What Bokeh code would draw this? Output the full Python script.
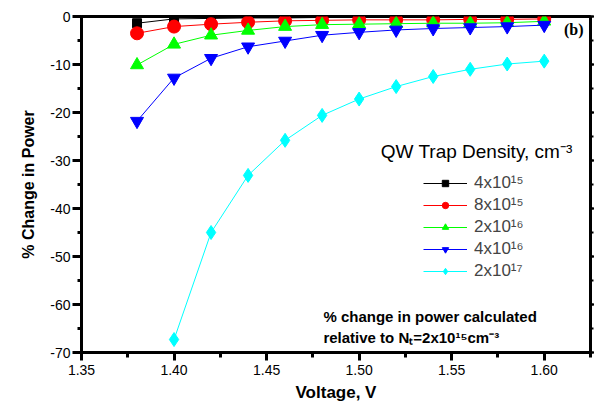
from bokeh.plotting import figure
from bokeh.models import (LinearAxis, SingleIntervalTicker, NumeralTickFormatter,
                          CustomJSTickFormatter, Legend, LegendItem, Label, Range1d)
from bokeh.embed import file_html
from bokeh.resources import INLINE

# ---- data ----
voltage = [1.38, 1.40, 1.42, 1.44, 1.46, 1.48, 1.50, 1.52, 1.54, 1.56, 1.58, 1.60]
voltage_c = [1.40, 1.42, 1.44, 1.46, 1.48, 1.50, 1.52, 1.54, 1.56, 1.58, 1.60]
d4e15 = [-1.4, -0.5, -0.4, -0.3, -0.3, -0.2, -0.2, -0.2, -0.2, -0.1, -0.1, -0.1]
d8e15 = [-3.5, -2.1, -1.6, -1.2, -0.9, -0.8, -0.7, -0.7, -0.7, -0.6, -0.6, -0.5]
d2e16 = [-10.1, -5.8, -3.9, -2.9, -2.1, -1.7, -1.6, -1.5, -1.4, -1.4, -1.3, -1.0]
d4e16 = [-21.8, -12.8, -8.7, -6.3, -5.1, -3.9, -3.3, -2.8, -2.5, -2.3, -2.1, -1.8]
d2e17 = [-67.3, -45.0, -33.1, -25.8, -20.6, -17.2, -14.6, -12.5, -11.0, -9.9, -9.3]
labels = ["4x10\u00b9\u2075", "8x10\u00b9\u2075", "2x10\u00b9\u2076", "4x10\u00b9\u2076", "2x10\u00b9\u2077"]
colors = ["#000000", "#ff0000", "#00ff00", "#0000ff", "#00ffff"]
markers = ["square", "circle", "triangle", "inverted_triangle", "diamond"]
msizes = [9, 13, 13, 13, 14]

FONT = "Liberation Sans"

p = figure(output_backend="svg", toolbar_location=None,
           width=595, height=402, frame_width=509, frame_height=336,
           x_range=Range1d(1.35, 1.625), y_range=Range1d(-70, 0),
           min_border_left=81, min_border_top=16, min_border_right=0, min_border_bottom=40)
p.xgrid.visible = False
p.ygrid.visible = False
p.outline_line_color = "black"
p.outline_line_width = 3
p.background_fill_color = "white"
p.border_fill_color = "white"

xs_list = [voltage, voltage, voltage, voltage, voltage_c]
ys_list = [d4e15, d8e15, d2e16, d4e16, d2e17]
items = []
for xs, ys, c, m, s, lab in zip(xs_list, ys_list, colors, markers, msizes, labels):
    r1 = p.line(xs, ys, line_color=c, line_width=1)
    r2 = p.scatter(xs, ys, marker=m, size=s, fill_color=c, line_color=c)
    items.append(LegendItem(label=lab, renderers=[r1, r2]))

# axes styling
xax = p.xaxis[0]
xax.ticker = SingleIntervalTicker(interval=0.05, num_minor_ticks=2)
xax.formatter = NumeralTickFormatter(format="0.00")
yax = p.yaxis[0]
yax.ticker = SingleIntervalTicker(interval=10, num_minor_ticks=2)
yax.formatter = CustomJSTickFormatter(code="return tick.toFixed(0);")
for ax in (xax, yax):
    ax.axis_line_width = 3
    ax.major_tick_line_width = 3
    ax.minor_tick_line_width = 3
    ax.major_tick_in = 0
    ax.minor_tick_in = 0
    ax.major_label_text_font = FONT
    ax.major_label_text_font_size = "14px"
    ax.major_label_text_color = "black"
    ax.axis_label_text_font = FONT
    ax.axis_label_text_font_style = "bold"
    ax.axis_label_text_color = "black"
xax.major_tick_out = 8
xax.minor_tick_out = 5
xax.major_label_standoff = 4
xax.axis_label = "Voltage, V"
xax.axis_label_text_font_size = "17px"
xax.axis_label_standoff = 5
yax.major_tick_out = 9
yax.minor_tick_out = 4
yax.major_label_standoff = 2
yax.axis_label = "% Change in Power"
yax.axis_label_text_font_size = "16px"
yax.axis_label_standoff = 10

rax = LinearAxis(ticker=SingleIntervalTicker(interval=10, num_minor_ticks=2),
                 formatter=CustomJSTickFormatter(code="return '';"))
rax.axis_line_width = 3
rax.major_tick_line_width = 2
rax.minor_tick_line_width = 2
rax.major_tick_in = 0
rax.minor_tick_in = 0
rax.major_tick_out = 4
rax.minor_tick_out = 3
rax.major_label_standoff = 0
p.add_layout(rax, "right")

legend = Legend(items=items, location=(342, 71), padding=0, margin=0, spacing=2,
                glyph_width=44, glyph_height=16, label_height=16, label_standoff=7,
                label_text_font=FONT, label_text_font_size="17px",
                border_line_alpha=0, background_fill_alpha=0)
p.add_layout(legend, "center")

p.add_layout(Label(x=1.6153, y=-28.2, text="QW Trap Density, cm\u207b\u00b3",
                   text_font=FONT, text_font_size="19px", text_align="right",
                   text_baseline="middle", text_color="black"))
p.add_layout(Label(x=1.6212, y=-2.8, text="(b)", text_font="Liberation Serif",
                   text_font_style="bold", text_font_size="16px", text_align="right",
                   text_baseline="middle", text_color="black"))
p.add_layout(Label(x=1.4807, y=-62.4, text="% change in power calculated",
                   text_font=FONT, text_font_style="bold", text_font_size="15px",
                   text_baseline="middle", text_color="black"))
p.add_layout(Label(x=1.4807, y=-66.8, text="relative to N\u209c=2x10\u00b9\u2075cm\u207b\u00b3",
                   text_font=FONT, text_font_style="bold", text_font_size="15px",
                   text_baseline="middle", text_color="black"))

open("out.html", "w").write(file_html(p, INLINE))
